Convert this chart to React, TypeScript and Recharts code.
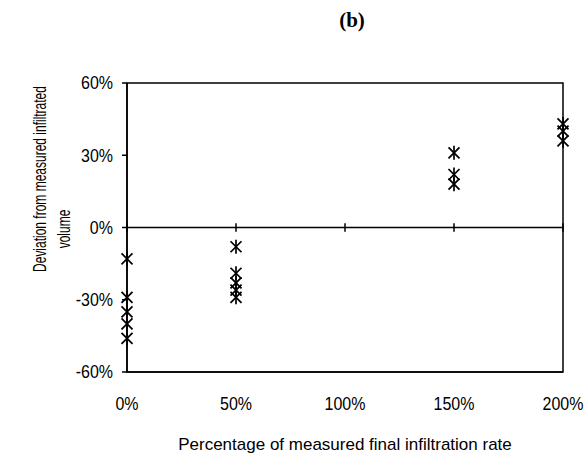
import React from "react";
import {
  ScatterChart,
  Scatter,
  XAxis,
  YAxis,
  ReferenceLine,
  ReferenceArea,
} from "recharts";

// Rate of final infiltration used (percent of the measured value)
const rates = [0, 50, 150, 200];
// Deviation from the measured infiltrated volume (%) at each rate
const dev0 = [-13, -29, -35, -40, -46];
const dev50 = [-8, -19, -23, -26, -29];
const dev150 = [31, 22, 18];
const dev200 = [43, 40, 36];

const xTicks = [0, 50, 100, 150, 200];
const yTicks = [-60, -30, 0, 30, 60];

const deviations = [dev0, dev50, dev150, dev200];
const points = rates.flatMap((r, i) => deviations[i].map((d) => ({ x: r, y: d })));

const FONT = "'Liberation Sans', Arial, sans-serif";
const pct = (v: number) => `${v}%`;

// Asterisk marker: an X crossed by a vertical stroke
const StarMark = (props: any) => {
  const { cx, cy } = props;
  if (cx == null || cy == null) return null;
  return (
    <g stroke="#000" strokeWidth={1.7} fill="none">
      <line x1={cx - 5.5} y1={cy - 5.5} x2={cx + 5.5} y2={cy + 5.5} />
      <line x1={cx + 5.5} y1={cy - 5.5} x2={cx - 5.5} y2={cy + 5.5} />
      <line x1={cx} y1={cy - 7} x2={cx} y2={cy + 7} />
    </g>
  );
};

// Tick labels drawn slightly taller than wide
const XTick = (props: any) => {
  const { x, y, payload } = props;
  return (
    <g transform={`translate(${x},${y + 36}) scale(1,1.15)`}>
      <text textAnchor="middle" fontFamily={FONT} fontSize={16} fill="#000">
        {pct(payload.value)}
      </text>
    </g>
  );
};

const YTick = (props: any) => {
  const { x, y, payload } = props;
  return (
    <g transform={`translate(${x},${y}) scale(1,1.15)`}>
      <text textAnchor="end" dominantBaseline="central" fontFamily={FONT} fontSize={16} fill="#000">
        {pct(payload.value)}
      </text>
    </g>
  );
};

const YTitle = () => (
  <g fontFamily={FONT} fontSize={12} fill="#000">
    <g transform="translate(40,179) rotate(-90) scale(1,1.5)">
      <text textAnchor="middle" dominantBaseline="central">
        Deviation from measured infiltrated
      </text>
    </g>
    <g transform="translate(64,229) rotate(-90) scale(1,1.5)">
      <text textAnchor="middle" dominantBaseline="central">
        volume
      </text>
    </g>
  </g>
);

export default function App() {
  return (
    <div style={{ position: "absolute", left: 0, top: 0, background: "#fff" }}>
      <ScatterChart
        width={587}
        height={461}
        margin={{ top: 83, right: 24, bottom: 0, left: 0 }}
      >
        <text
          x={352}
          y={20}
          textAnchor="middle"
          dominantBaseline="central"
          fontFamily="'Liberation Serif', 'Times New Roman', serif"
          fontWeight="bold"
          fontSize={21}
          fill="#000"
        >
          (b)
        </text>
        <XAxis
          type="number"
          dataKey="x"
          domain={[0, 200]}
          ticks={xTicks}
          axisLine={{ stroke: "#000", strokeWidth: 1.5 }}
          tickLine={false}
          tickSize={0}
          height={89}
          tick={<XTick />}
          label={{
            value: "Percentage of measured final infiltration rate",
            position: "insideBottom",
            offset: 11,
            fill: "#000",
            fontSize: 17,
            fontFamily: FONT,
          }}
        />
        <YAxis
          type="number"
          dataKey="y"
          domain={[-60, 60]}
          ticks={yTicks}
          width={127}
          axisLine={{ stroke: "#000", strokeWidth: 1.5 }}
          tickLine={{ stroke: "#000", strokeWidth: 1.5 }}
          tickSize={5}
          tickMargin={9}
          tick={<YTick />}
          label={<YTitle />}
        />
        <ReferenceArea
          x1={0}
          x2={200}
          y1={-60}
          y2={60}
          fill="none"
          stroke="#000"
          strokeWidth={1.5}
          fillOpacity={0}
        />
        <ReferenceLine y={0} stroke="#000" strokeWidth={1.5} />
        {xTicks.map((t) => (
          <ReferenceLine
            key={t}
            segment={[
              { x: t, y: -1.8 },
              { x: t, y: 1.8 },
            ]}
            stroke="#000"
            strokeWidth={1.5}
          />
        ))}
        <Scatter data={points} shape={<StarMark />} isAnimationActive={false} />
      </ScatterChart>
    </div>
  );
}
